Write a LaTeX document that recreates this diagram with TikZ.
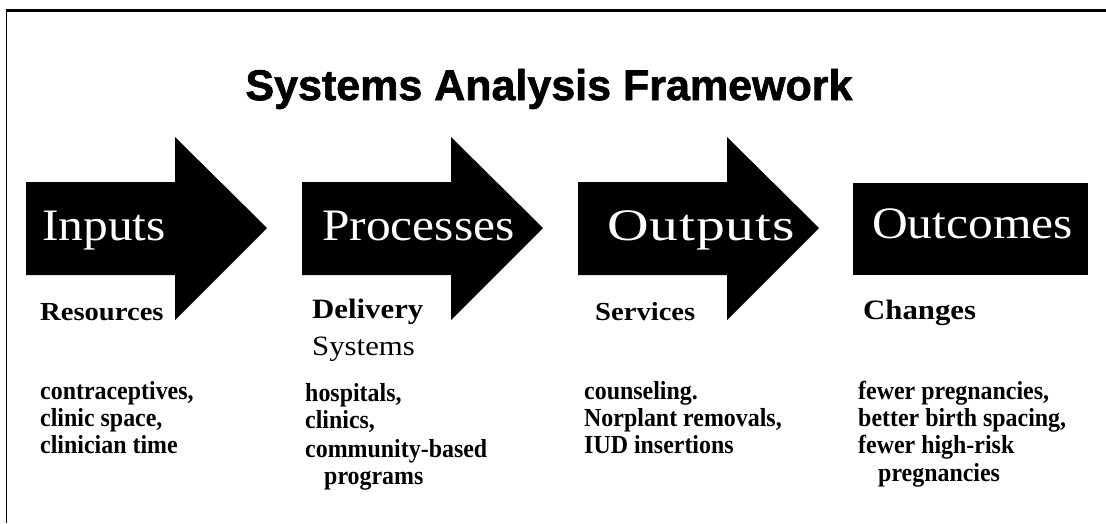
\documentclass[tikz,border=0pt]{standalone}
\usepackage{fontspec}
\setmainfont{Liberation Serif}
\newfontfamily\headfont{Liberation Sans}[FakeBold=1.5]
\newfontfamily\stagefont{Liberation Serif}[FakeStretch=1.1]
\newfontfamily\widestagefont{Liberation Serif}[FakeStretch=1.28,LetterSpace=2]
\newfontfamily\kindfont{Liberation Serif}[FakeStretch=1.1]
\newfontfamily\itemfont{Liberation Serif}[FakeStretch=0.92]
\usepackage{tikz}

\begin{document}
\begin{tikzpicture}[x=1pt,y=-1pt]
	\useasboundingbox (0,0) rectangle (1106,523);
	\draw[line width=3.5pt] (6,10.5) -- (1106,10.5);
	\draw[line width=1.2pt] (6.6,9) -- (6.6,523);
	\node (title) at (549,89) {\headfont\bfseries\fontsize{43}{43}\selectfont Systems Analysis Framework};
	% three arrows and the last box
	\foreach \x in {26,302,578}
		\fill (\x,182) -- ++(149,0) -- ++(0,-45) -- ++(92,91) -- ++(-92,92) -- ++(0,-45) -- ++(-149,0) -- cycle;
	\fill (853,183) rectangle (1088,275);
	\tikzstyle{every node}=[inner sep=0pt,anchor=base west];
	\tikzstyle{stage}=[text=white,font=\stagefont\fontsize{45}{45}\selectfont];
	\tikzstyle{kind}=[font=\kindfont\bfseries\fontsize{26}{26}\selectfont];
	\tikzstyle{items}=[align=left,anchor=north west,font=\itemfont\bfseries\fontsize{26}{27}\selectfont];
	\node[stage] (inputs) at (42,240) {Inputs};
	\node[stage] (processes) at (322,240) {Processes};
	\node[stage,font=\widestagefont\fontsize{45}{45}\selectfont] (outputs) at (607,240) {Outputs};
	\node[stage] (outcomes) at (872,238) {Outcomes};
	\node[kind] (resources) at (40,320) {Resources};
	\node[kind,font=\kindfont\bfseries\fontsize{28}{28}\selectfont] (delivery) at (312,318) {Delivery};
	\node[kind,font=\kindfont\fontsize{28}{28}\selectfont] (systems) at (312,355) {Systems};
	\node[kind] (services) at (595,320) {Services};
	\node[kind,font=\kindfont\bfseries\fontsize{28}{28}\selectfont] (changes) at (863,319) {Changes};
	\node[items] (inlist) at (40,381) {contraceptives,\\clinic space,\\clinician time};
	\node[items] (proclist) at (305,383) {hospitals,\\clinics,\\[2pt]community-based\\\hspace*{19pt}programs};
	\node[items] (outlist) at (584,381) {counseling.\\Norplant removals,\\IUD insertions};
	\node[items] (outclist) at (858,381) {fewer pregnancies,\\better birth spacing,\\fewer high-risk\\[1pt]\hspace*{20pt}pregnancies};
\end{tikzpicture}
\end{document}
